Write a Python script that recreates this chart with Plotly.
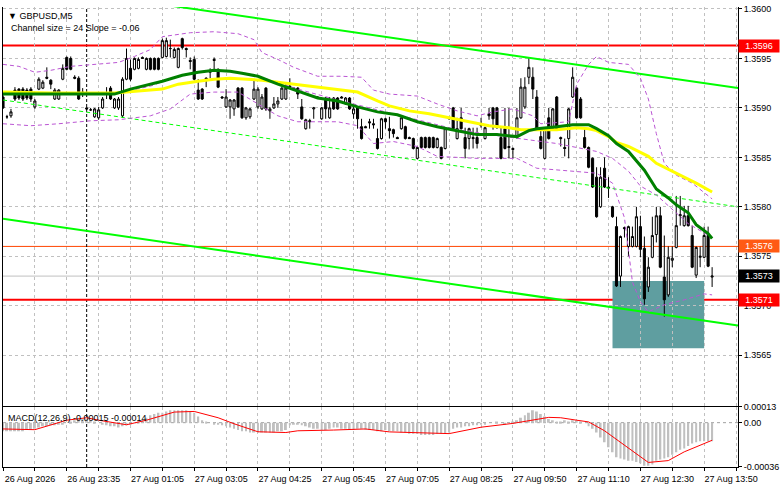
import plotly.graph_objects as go
from plotly.subplots import make_subplots

# GBPUSD M5 bars (one per 5 minutes)
opens = [
    1.35911, 1.35891, 1.35892, 1.35918, 1.35919, 1.35919, 1.35918, 1.35919, 1.35901, 1.35919,
    1.35920, 1.35931, 1.35928, 1.35909, 1.35909, 1.35929, 1.35951, 1.35950, 1.35931, 1.35930,
    1.35916, 1.35900, 1.35898, 1.35891, 1.35890, 1.35900, 1.35914, 1.35920, 1.35900, 1.35900,
    1.35892, 1.35929, 1.35940, 1.35939, 1.35940, 1.35951, 1.35939, 1.35950, 1.35950, 1.35950,
    1.35951, 1.35952, 1.35960, 1.35951, 1.35941, 1.35970, 1.35960, 1.35948, 1.35949, 1.35918,
    1.35919, 1.35930, 1.35936, 1.35949, 1.35939, 1.35911, 1.35901, 1.35901, 1.35899, 1.35920,
    1.35920, 1.35890, 1.35891, 1.35909, 1.35901, 1.35899, 1.35920, 1.35897, 1.35900, 1.35904,
    1.35909, 1.35909, 1.35922, 1.35920, 1.35920, 1.35901, 1.35879, 1.35886, 1.35899, 1.35911,
    1.35889, 1.35910, 1.35890, 1.35910, 1.35910, 1.35911, 1.35904, 1.35910, 1.35894, 1.35900,
    1.35881, 1.35881, 1.35886, 1.35884, 1.35869, 1.35869, 1.35889, 1.35879, 1.35878, 1.35870,
    1.35879, 1.35881, 1.35870, 1.35869, 1.35849, 1.35870, 1.35870, 1.35870, 1.35870, 1.35860,
    1.35860, 1.35859, 1.35889, 1.35900, 1.35869, 1.35890, 1.35870, 1.35869, 1.35870, 1.35870,
    1.35882, 1.35869, 1.35894, 1.35900, 1.35900, 1.35870, 1.35879, 1.35861, 1.35859, 1.35870,
    1.35890, 1.35901, 1.35931, 1.35931, 1.35911, 1.35871, 1.35849, 1.35890, 1.35879, 1.35911,
    1.35870, 1.35860, 1.35869, 1.35911, 1.35920, 1.35909, 1.35870, 1.35860, 1.35849, 1.35830,
    1.35800, 1.35839, 1.35820, 1.35800, 1.35780, 1.35730, 1.35779, 1.35760, 1.35760, 1.35760,
    1.35780, 1.35758, 1.35719, 1.35749, 1.35772, 1.35791, 1.35729, 1.35711, 1.35746, 1.35759,
    1.35791, 1.35781, 1.35791, 1.35771, 1.35731, 1.35749, 1.35749, 1.35771, 1.35729,
]
highs = [
    1.35913, 1.35893, 1.35899, 1.35921, 1.35920, 1.35921, 1.35920, 1.35921, 1.35909, 1.35931,
    1.35928, 1.35941, 1.35929, 1.35920, 1.35919, 1.35944, 1.35952, 1.35952, 1.35933, 1.35932,
    1.35920, 1.35901, 1.35900, 1.35900, 1.35901, 1.35911, 1.35921, 1.35922, 1.35910, 1.35911,
    1.35931, 1.35960, 1.35949, 1.35951, 1.35951, 1.35952, 1.35951, 1.35951, 1.35951, 1.35951,
    1.35970, 1.35971, 1.35969, 1.35961, 1.35961, 1.35971, 1.35961, 1.35951, 1.35952, 1.35929,
    1.35920, 1.35931, 1.35940, 1.35951, 1.35940, 1.35912, 1.35919, 1.35909, 1.35909, 1.35921,
    1.35921, 1.35901, 1.35900, 1.35929, 1.35921, 1.35914, 1.35921, 1.35901, 1.35911, 1.35911,
    1.35921, 1.35924, 1.35930, 1.35921, 1.35921, 1.35909, 1.35889, 1.35889, 1.35901, 1.35912,
    1.35901, 1.35911, 1.35911, 1.35911, 1.35911, 1.35912, 1.35911, 1.35911, 1.35901, 1.35901,
    1.35889, 1.35882, 1.35889, 1.35889, 1.35879, 1.35890, 1.35890, 1.35891, 1.35879, 1.35871,
    1.35891, 1.35882, 1.35871, 1.35870, 1.35861, 1.35871, 1.35871, 1.35871, 1.35871, 1.35870,
    1.35861, 1.35880, 1.35891, 1.35901, 1.35890, 1.35900, 1.35880, 1.35880, 1.35880, 1.35880,
    1.35890, 1.35881, 1.35900, 1.35901, 1.35901, 1.35880, 1.35900, 1.35900, 1.35860, 1.35900,
    1.35930, 1.35931, 1.35951, 1.35941, 1.35918, 1.35879, 1.35880, 1.35900, 1.35900, 1.35912,
    1.35871, 1.35869, 1.35900, 1.35941, 1.35921, 1.35911, 1.35880, 1.35861, 1.35850, 1.35840,
    1.35840, 1.35850, 1.35830, 1.35801, 1.35790, 1.35771, 1.35780, 1.35781, 1.35780, 1.35800,
    1.35791, 1.35770, 1.35749, 1.35790, 1.35800, 1.35800, 1.35771, 1.35760, 1.35760, 1.35811,
    1.35811, 1.35801, 1.35801, 1.35781, 1.35760, 1.35760, 1.35780, 1.35780, 1.35739,
]
lows = [
    1.35899, 1.35889, 1.35890, 1.35907, 1.35908, 1.35907, 1.35908, 1.35906, 1.35899, 1.35918,
    1.35919, 1.35929, 1.35919, 1.35908, 1.35908, 1.35928, 1.35938, 1.35938, 1.35929, 1.35908,
    1.35911, 1.35898, 1.35897, 1.35890, 1.35888, 1.35899, 1.35909, 1.35908, 1.35899, 1.35898,
    1.35890, 1.35928, 1.35927, 1.35938, 1.35939, 1.35950, 1.35938, 1.35938, 1.35938, 1.35938,
    1.35950, 1.35951, 1.35951, 1.35950, 1.35940, 1.35959, 1.35951, 1.35939, 1.35928, 1.35908,
    1.35908, 1.35921, 1.35930, 1.35937, 1.35920, 1.35910, 1.35900, 1.35889, 1.35892, 1.35900,
    1.35889, 1.35888, 1.35889, 1.35908, 1.35899, 1.35898, 1.35897, 1.35889, 1.35899, 1.35900,
    1.35908, 1.35908, 1.35920, 1.35919, 1.35909, 1.35888, 1.35878, 1.35879, 1.35889, 1.35910,
    1.35888, 1.35889, 1.35889, 1.35898, 1.35898, 1.35910, 1.35903, 1.35898, 1.35889, 1.35879,
    1.35868, 1.35880, 1.35879, 1.35879, 1.35858, 1.35868, 1.35879, 1.35869, 1.35870, 1.35869,
    1.35878, 1.35868, 1.35869, 1.35858, 1.35848, 1.35859, 1.35859, 1.35859, 1.35859, 1.35859,
    1.35848, 1.35858, 1.35888, 1.35878, 1.35868, 1.35878, 1.35849, 1.35858, 1.35859, 1.35859,
    1.35880, 1.35868, 1.35888, 1.35878, 1.35879, 1.35848, 1.35858, 1.35849, 1.35849, 1.35869,
    1.35889, 1.35899, 1.35924, 1.35909, 1.35878, 1.35858, 1.35848, 1.35868, 1.35878, 1.35878,
    1.35861, 1.35851, 1.35849, 1.35910, 1.35889, 1.35889, 1.35859, 1.35839, 1.35819, 1.35789,
    1.35799, 1.35819, 1.35809, 1.35789, 1.35719, 1.35719, 1.35769, 1.35750, 1.35759, 1.35759,
    1.35749, 1.35701, 1.35714, 1.35748, 1.35764, 1.35738, 1.35689, 1.35709, 1.35739, 1.35758,
    1.35781, 1.35780, 1.35780, 1.35738, 1.35728, 1.35739, 1.35748, 1.35739, 1.35719,
]
closes = [
    1.35900, 1.35891, 1.35896, 1.35909, 1.35910, 1.35909, 1.35910, 1.35909, 1.35907, 1.35929,
    1.35926, 1.35930, 1.35924, 1.35918, 1.35918, 1.35940, 1.35939, 1.35939, 1.35930, 1.35909,
    1.35914, 1.35899, 1.35898, 1.35899, 1.35898, 1.35909, 1.35915, 1.35909, 1.35909, 1.35909,
    1.35929, 1.35950, 1.35929, 1.35950, 1.35949, 1.35950, 1.35950, 1.35939, 1.35939, 1.35939,
    1.35968, 1.35968, 1.35960, 1.35959, 1.35960, 1.35961, 1.35959, 1.35947, 1.35929, 1.35909,
    1.35909, 1.35929, 1.35937, 1.35948, 1.35921, 1.35910, 1.35911, 1.35908, 1.35908, 1.35901,
    1.35890, 1.35900, 1.35899, 1.35919, 1.35919, 1.35911, 1.35899, 1.35899, 1.35904, 1.35907,
    1.35920, 1.35920, 1.35921, 1.35919, 1.35914, 1.35889, 1.35888, 1.35887, 1.35900, 1.35910,
    1.35900, 1.35899, 1.35900, 1.35899, 1.35899, 1.35910, 1.35910, 1.35899, 1.35899, 1.35889,
    1.35869, 1.35880, 1.35885, 1.35883, 1.35859, 1.35889, 1.35886, 1.35877, 1.35874, 1.35869,
    1.35890, 1.35869, 1.35869, 1.35859, 1.35860, 1.35860, 1.35860, 1.35860, 1.35860, 1.35869,
    1.35849, 1.35879, 1.35890, 1.35879, 1.35879, 1.35879, 1.35859, 1.35879, 1.35869, 1.35864,
    1.35883, 1.35880, 1.35892, 1.35889, 1.35880, 1.35849, 1.35859, 1.35860, 1.35858, 1.35890,
    1.35921, 1.35921, 1.35941, 1.35919, 1.35879, 1.35859, 1.35879, 1.35869, 1.35899, 1.35879,
    1.35869, 1.35859, 1.35899, 1.35931, 1.35890, 1.35890, 1.35860, 1.35840, 1.35820, 1.35790,
    1.35830, 1.35820, 1.35819, 1.35790, 1.35720, 1.35770, 1.35778, 1.35780, 1.35770, 1.35790,
    1.35757, 1.35707, 1.35739, 1.35771, 1.35791, 1.35739, 1.35706, 1.35749, 1.35748, 1.35781,
    1.35792, 1.35791, 1.35781, 1.35739, 1.35759, 1.35750, 1.35771, 1.35740, 1.35730,
]

# moving averages (yellow = slow, green = fast), sampled at bar indices
ma_slow_idx = [0, 12, 28, 32, 37, 40, 44, 49, 53, 57, 61, 65, 69, 77, 84, 89, 94, 97, 102, 107,
               112, 117, 122, 127, 130, 134, 139, 144, 147, 149, 152, 154, 157, 159, 162, 164, 169, 174, 178]
ma_slow = [1.35916, 1.35915, 1.35915, 1.35916, 1.35918, 1.35919, 1.35924, 1.35927, 1.35929, 1.35930,
           1.35929, 1.35928, 1.35926, 1.35922, 1.35919, 1.35916, 1.35907, 1.35902, 1.35897, 1.35894,
           1.35890, 1.35886, 1.35882, 1.35880, 1.35878, 1.35878, 1.35878, 1.35880, 1.35879, 1.35877,
           1.35871, 1.35865, 1.35861, 1.35857, 1.35851, 1.35844, 1.35834, 1.35824, 1.35815]
ma_fast_idx = [0, 28, 32, 37, 40, 45, 49, 53, 57, 60, 64, 69, 74, 79, 84, 89, 94, 99, 104, 109,
               114, 119, 124, 129, 132, 134, 139, 143, 147, 149, 152, 154, 157, 159, 161, 164, 167, 169,
               172, 174, 177, 178]
ma_fast = [1.35914, 1.35914, 1.35919, 1.35924, 1.35927, 1.35933, 1.35936, 1.35938, 1.35937, 1.35935,
           1.35932, 1.35924, 1.35917, 1.35910, 1.35907, 1.35901, 1.35896, 1.35893, 1.35886, 1.35881,
           1.35877, 1.35873, 1.35873, 1.35871, 1.35877, 1.35879, 1.35881, 1.35883, 1.35883, 1.35879,
           1.35872, 1.35864, 1.35856, 1.35847, 1.35837, 1.35818, 1.35809, 1.35802, 1.35794, 1.35782,
           1.35773, 1.35768]

# Bollinger bands (violet dashed)
bb_up_idx = [0, 4, 8, 12, 17, 23, 29, 33, 37, 40, 47, 53, 59, 63, 65, 69, 73, 79, 85, 90,
             93, 97, 104, 109, 114, 119, 123, 128, 133, 135, 142, 144, 147, 149, 152, 157, 160, 162,
             164, 166, 169, 173, 178]
bb_up = [1.35944, 1.35942, 1.35936, 1.35938, 1.35942, 1.35944, 1.35946, 1.35952, 1.35959, 1.35972,
         1.35976, 1.35977, 1.35975, 1.35969, 1.35956, 1.35949, 1.35941, 1.35932, 1.35932, 1.35931,
         1.35918, 1.35914, 1.35912, 1.35904, 1.35897, 1.35892, 1.35896, 1.35899, 1.35892, 1.35884,
         1.35886, 1.35924, 1.35944, 1.35952, 1.35946, 1.35944, 1.35930, 1.35909, 1.35874, 1.35844,
         1.35832, 1.35824, 1.35808]
bb_mid_idx = [0, 14, 29, 37, 44, 52, 59, 64, 74, 84, 94, 104, 114, 124, 132, 139, 149, 153,
              157, 160, 164, 168, 172, 178]
bb_mid = [1.35914, 1.35914, 1.35915, 1.35922, 1.35932, 1.35938, 1.35936, 1.35932, 1.35919, 1.35908,
          1.35898, 1.35888, 1.35878, 1.35872, 1.35868, 1.35864, 1.35856, 1.35849, 1.35836, 1.35821,
          1.35812, 1.35797, 1.35783, 1.35769]
bb_low_idx = [0, 7, 14, 22, 29, 37, 42, 47, 53, 59, 64, 69, 74, 84, 89, 93, 98, 104, 109, 119,
              129, 134, 149, 153, 156, 158, 160, 162, 166, 171, 176, 178]
bb_low = [1.35884, 1.35882, 1.35884, 1.35887, 1.35888, 1.35892, 1.35899, 1.35914, 1.35916, 1.35916,
          1.35904, 1.35892, 1.35886, 1.35886, 1.35882, 1.35864, 1.35866, 1.35861, 1.35851, 1.35849,
          1.35849, 1.35839, 1.35834, 1.35824, 1.35789, 1.35724, 1.35704, 1.35694, 1.35701, 1.35706,
          1.35712, 1.35711]

# regression channel end points
channel_idx = [0, 184.5]
channel_top = [1.36028, 1.35920]
channel_mid = [1.35908, 1.35800]
channel_bot = [1.35788, 1.35680]

# horizontal levels and zone
red_levels = [1.35963, 1.35706]
orange_level = 1.35760
bid = 1.35730
zone_bars = [153, 176]
zone_prices = [1.35657, 1.35725]

# MACD(12,26,9)
macd_hist = [
    -0.00007, -0.00007, -0.00007, -0.00007, -0.00007, -0.00007, -0.00006, -0.00006, -0.00005, -0.00004,
    -0.00003, -0.00003, -0.00002, -0.00002, -0.00001, -0.00001, 0.0, 0.00001, 0.00002, 0.00003,
    0.00003, 0.00003, 0.00002, 0.00001, 0.0, -0.00001, -0.00002, -0.00003, -0.00003, -0.00004,
    -0.00003, -0.00002, -0.00001, 0.0, 0.00001, 0.00003, 0.00004, 0.00006, 0.00007, 0.00008,
    0.00008, 0.00009, 0.00010, 0.00010, 0.00010, 0.00010, 0.00010, 0.00009, 0.00008, 0.00005,
    0.00002, 0.00001, 0.0, -0.00001, -0.00001, -0.00002, -0.00003, -0.00004, -0.00005, -0.00006,
    -0.00007, -0.00007, -0.00008, -0.00008, -0.00008, -0.00008, -0.00008, -0.00008, -0.00008, -0.00007,
    -0.00007, -0.00006, -0.00002, -0.00001, -0.00001, -0.00002, -0.00003, -0.00004, -0.00005, -0.00005,
    -0.00006, -0.00006, -0.00005, -0.00004, -0.00004, -0.00005, -0.00005, -0.00006, -0.00006, -0.00005,
    -0.00005, -0.00006, -0.00006, -0.00006, -0.00007, -0.00007, -0.00006, -0.00007, -0.00007, -0.00007,
    -0.00008, -0.00008, -0.00009, -0.00009, -0.00009, -0.00010, -0.00010, -0.00010, -0.00010, -0.00009,
    -0.00009, -0.00009, -0.00008, -0.00005, -0.00004, -0.00004, -0.00003, -0.00003, -0.00002, -0.00002,
    -0.00001, -0.00001, 0.0, 0.0, 0.00001, 0.0, -0.00001, 0.0, 0.00001, 0.00002,
    0.00004, 0.00006, 0.00008, 0.00010, 0.00009, 0.00007, 0.00005, 0.00003, 0.00002, 0.00001,
    0.00001, 0.00002, 0.00001, 0.00002, 0.00002, 0.00001, 0.0, -0.00003, -0.00005, -0.00008,
    -0.00012, -0.00016, -0.00020, -0.00024, -0.00028, -0.00029, -0.00030, -0.00031, -0.00031, -0.00032,
    -0.00033, -0.00035, -0.00035, -0.00034, -0.00031, -0.00030, -0.00029, -0.00028, -0.00026, -0.00024,
    -0.00022, -0.00021, -0.00019, -0.00017, -0.00016, -0.00015, -0.00015, -0.00015, -0.00015,
]
signal_idx = [0, 8, 16, 21, 24, 31, 36, 43, 48, 54, 58, 64, 71, 74, 83, 91, 97, 112, 120, 128,
              137, 140, 144, 147, 151, 157, 162, 167, 171, 178]
signal = [-0.000051, -0.000057, 0.000020, 0.000040, 0.000020, -0.000017, 0.000020, 0.000086, 0.000091,
          0.000040, -0.000009, -0.000074, -0.000080, -0.000066, -0.000060, -0.000051, -0.000075,
          -0.000089, -0.000037, -0.000006, 0.000043, 0.000040, 0.000020, 0.000006, -0.000066,
          -0.000209, -0.000323, -0.000308, -0.000237, -0.000143]

# time labels, one every 16 bars
time_labels = ["26 Aug 2026", "26 Aug 23:35", "27 Aug 01:05", "27 Aug 03:05", "27 Aug 04:25",
               "27 Aug 05:45", "27 Aug 07:05", "27 Aug 08:25", "27 Aug 09:50", "27 Aug 11:10",
               "27 Aug 12:30", "27 Aug 13:50"]
day_break = 21
price_ticks = [1.3565, 1.3570, 1.3575, 1.3580, 1.3585, 1.3590, 1.3595, 1.3600]

bars = list(range(len(opens)))
grid_vals = list(range(0, 185, 8))
grid_text = [time_labels[v // 16] if v % 16 == 0 and v // 16 < len(time_labels) else "" for v in grid_vals]

fig = make_subplots(rows=2, cols=1, shared_xaxes=True, vertical_spacing=0.002)

# channel
fig.add_trace(go.Scatter(x=channel_idx, y=channel_top, mode="lines",
                         line=dict(color="#00FF00", width=2)), row=1, col=1)
fig.add_trace(go.Scatter(x=channel_idx, y=channel_bot, mode="lines",
                         line=dict(color="#00FF00", width=2)), row=1, col=1)
fig.add_trace(go.Scatter(x=channel_idx, y=channel_mid, mode="lines",
                         line=dict(color="#00FF00", width=1, dash="4px,3px")), row=1, col=1)

# bollinger
for bx, by in [(bb_up_idx, bb_up), (bb_mid_idx, bb_mid), (bb_low_idx, bb_low)]:
    fig.add_trace(go.Scatter(x=bx, y=by, mode="lines",
                             line=dict(color="#BA55D3", width=1, dash="4px,3px")), row=1, col=1)

fig.add_trace(go.Candlestick(
    x=bars, open=opens, high=highs, low=lows, close=closes, whiskerwidth=0,
    increasing=dict(line=dict(color="black", width=1), fillcolor="white"),
    decreasing=dict(line=dict(color="black", width=1), fillcolor="black"),
), row=1, col=1)

fig.add_trace(go.Scatter(x=ma_slow_idx, y=ma_slow, mode="lines",
                         line=dict(color="#FFFF00", width=3)), row=1, col=1)
fig.add_trace(go.Scatter(x=ma_fast_idx, y=ma_fast, mode="lines",
                         line=dict(color="#008000", width=3)), row=1, col=1)

# MACD panel
fig.add_trace(go.Bar(x=bars, y=macd_hist, width=0.5,
                     marker=dict(color="#C0C0C0", line_width=0)), row=2, col=1)
fig.add_trace(go.Scatter(x=signal_idx, y=signal, mode="lines",
                         line=dict(color="red", width=1)), row=2, col=1)

shapes = [
    dict(type="rect", xref="x", yref="y", x0=zone_bars[0], x1=zone_bars[1],
         y0=zone_prices[0], y1=zone_prices[1], fillcolor="#5F9EA0", line_width=0, layer="below"),
    dict(type="line", xref="x domain", yref="y", x0=0, x1=1, y0=bid, y1=bid,
         line=dict(color="#C0C0C0", width=1), layer="below"),
    dict(type="line", xref="x domain", yref="y", x0=0, x1=1, y0=orange_level, y1=orange_level,
         line=dict(color="#FF4500", width=1), layer="below"),
    dict(type="line", xref="x2 domain", yref="y2", x0=0, x1=1, y0=0, y1=0,
         line=dict(color="#A0A0A0", width=1, dash="3px,3px"), layer="below"),
    dict(type="line", xref="x", yref="paper", x0=day_break, x1=day_break, y0=0, y1=1,
         line=dict(color="black", width=1, dash="3px,2px"), layer="below"),
]
for lv in red_levels:
    shapes.append(dict(type="line", xref="x domain", yref="y", x0=0, x1=1, y0=lv, y1=lv,
                       line=dict(color="#FF0000", width=2), layer="below"))

annotations = [
    dict(text="▼ GBPUSD,M5", x=0, y=1, xref="paper", yref="paper", xanchor="left", yanchor="top",
         xshift=3, yshift=-2, showarrow=False, font=dict(size=9)),
    dict(text="Channel size = 24 Slope = -0.06", x=0, y=1, xref="paper", yref="paper",
         xanchor="left", yanchor="top", xshift=6, yshift=-14, showarrow=False, font=dict(size=9)),
    dict(text="MACD(12,26,9) %.5f %.5f" % (macd_hist[-1], -0.00014), x=0, y=1, xref="paper",
         yref="y2 domain", xanchor="left", yanchor="top", xshift=3, yshift=-4, showarrow=False,
         font=dict(size=9)),
]
for lv, bg in [(red_levels[0], "#FF0000"), (orange_level, "#FF5A14"), (bid, "black"), (red_levels[1], "#FF0000")]:
    annotations.append(dict(text="%.4f" % lv, x=1, y=lv, xref="paper", yref="y", xanchor="left",
                            yanchor="middle", showarrow=False, bgcolor=bg, width=38, height=10,
                            borderpad=1, font=dict(size=9, color="white")))

fig.update_layout(
    width=781, height=489, margin=dict(l=3, r=40, t=2, b=22),
    paper_bgcolor="white", plot_bgcolor="white", showlegend=False,
    font=dict(family="Liberation Sans", size=9, color="black"),
    boxgap=0.25, barmode="overlay", shapes=shapes, annotations=annotations,
)
grid = dict(showgrid=True, gridcolor="#C0C0C0", griddash="3px,3px", gridwidth=1, zeroline=False)
fig.update_layout(
    xaxis=dict(range=[0, 184.5], tickmode="array", tickvals=grid_vals, showticklabels=False,
               showline=True, linecolor="black", linewidth=1, ticks="", rangeslider=dict(visible=False),
               **grid),
    xaxis2=dict(range=[0, 184.5], tickmode="array", tickvals=grid_vals, ticktext=grid_text,
                ticklabelshift=27, tickangle=0, ticks="outside", ticklen=3, tickcolor="black",
                showline=True, mirror=True, linecolor="black", linewidth=1, **grid),
    yaxis=dict(domain=[0.1333, 1], range=[1.35599, 1.36002], side="right", tickmode="array",
               tickvals=price_ticks, tickformat=".4f", ticks="outside", ticklen=3, tickcolor="black",
               showline=True, mirror=True, linecolor="black", linewidth=1, **grid),
    yaxis2=dict(domain=[0, 0.1312], range=[-0.00036, 0.00013], side="right", tickmode="array",
                tickvals=[0.00013, 0.0, -0.00036], ticktext=["0.00013", "0.00", "-0.00036"],
                ticks="outside", ticklen=3, tickcolor="black", showgrid=False, zeroline=False,
                showline=True, mirror=True, linecolor="black", linewidth=1),
)

fig.write_html("out.html", config={"displayModeBar": False},
               post_script="document.body.style.margin='0px';")
